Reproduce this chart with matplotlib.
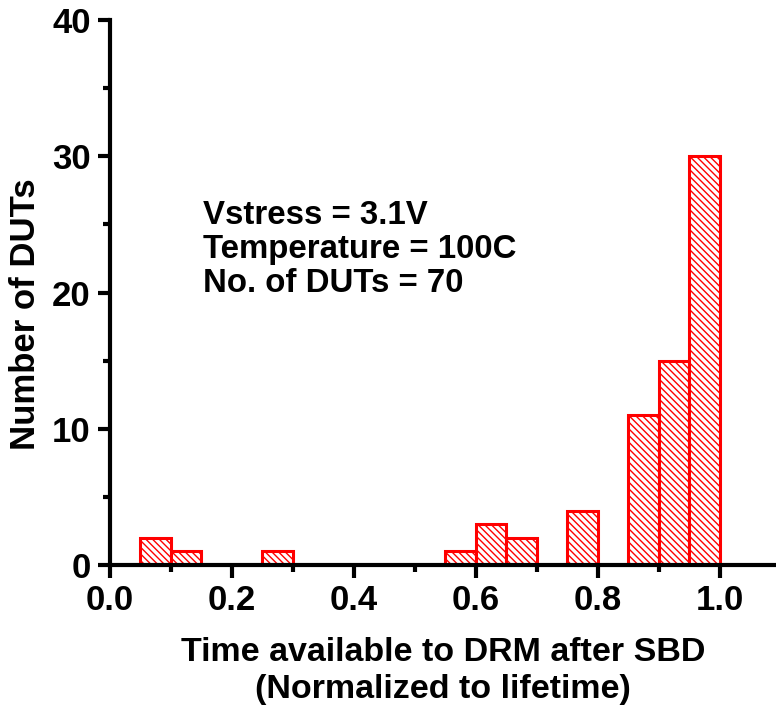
import numpy as np
import matplotlib.pyplot as plt
from matplotlib.ticker import MultipleLocator

plt.rcParams['font.family'] = ['Liberation Sans', 'DejaVu Sans']
plt.rcParams['font.weight'] = 'bold'
plt.rcParams['hatch.color'] = 'red'
plt.rcParams['hatch.linewidth'] = 1.0

# bin left edges (normalized time) and counts
bin_left = [0.05, 0.10, 0.25, 0.55, 0.60, 0.65, 0.75, 0.85, 0.90, 0.95]
counts = [2, 1, 1, 1, 3, 2, 4, 11, 15, 30]
bin_width = 0.05

notes = ['Vstress = 3.1V', 'Temperature = 100C', 'No. of DUTs = 70']

fig = plt.figure(figsize=(7.76, 7.10), dpi=100)
ax = fig.add_axes([110/776, 1 - 565/710, 1 - 110/776, (565 - 20)/710])

ax.bar(bin_left, counts, width=bin_width, align='edge', facecolor='white',
       edgecolor='red', linewidth=2.2, hatch='\\\\\\\\\\')

ax.set_xlim(0, 1.092)
ax.set_ylim(0, 40)
ax.xaxis.set_major_locator(MultipleLocator(0.2))
ax.xaxis.set_minor_locator(MultipleLocator(0.1))
ax.yaxis.set_major_locator(MultipleLocator(10))
ax.yaxis.set_minor_locator(MultipleLocator(5))

for s in ['top', 'right']:
    ax.spines[s].set_visible(False)
for s in ['left', 'bottom']:
    ax.spines[s].set_linewidth(3)
ax.tick_params(which='major', direction='out', length=9, width=3, labelsize=25, pad=5)
ax.tick_params(which='minor', direction='out', length=5, width=3)
ax.set_xticklabels([f'{v:.1f}' for v in ax.get_xticks()])

ax.set_xlabel('Time available to DRM after SBD\n(Normalized to lifetime)',
              fontsize=24.5, fontweight='bold', labelpad=14, linespacing=1.25)
ax.set_ylabel('Number of DUTs', fontsize=25, fontweight='bold')
ax.yaxis.set_label_coords(-0.102, 0.46)

ax.text(0.152, 26.8, '\n'.join(notes), fontsize=23.8, fontweight='bold',
        va='top', ha='left', linespacing=1.13)

fig.savefig('out.png', dpi=100)
